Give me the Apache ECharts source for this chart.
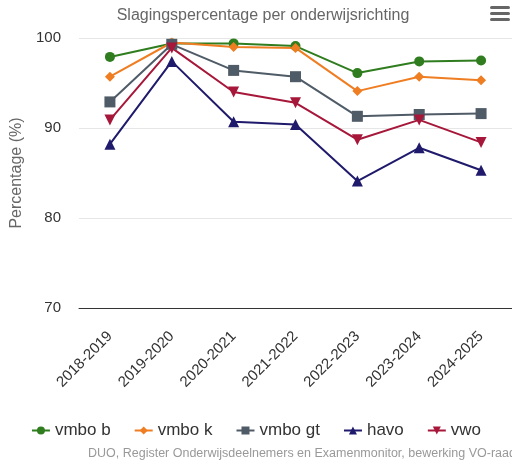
<!DOCTYPE html>
<html>
<head>
<meta charset="utf-8">
<script src="https://cdn.jsdelivr.net/npm/echarts@6/dist/echarts.min.js"></script>
<style>
  html, body { margin: 0; padding: 0; background: #fff; }
  #main { width: 512px; height: 465px; }
</style>
</head>
<body>
<div id="main"></div>
<script>
// schooljaren
const years = ["2018-2019", "2019-2020", "2020-2021", "2021-2022", "2022-2023", "2023-2024", "2024-2025"];

// slagingspercentages per richting
const vmboB = [97.9, 99.4, 99.4, 99.1, 96.1, 97.4, 97.5];
const vmboK = [95.7, 99.5, 99.0, 98.9, 94.1, 95.7, 95.3];
const vmboGt = [92.9, 99.3, 96.4, 95.7, 91.3, 91.5, 91.6];
const havo = [88.2, 97.4, 90.7, 90.4, 84.1, 87.8, 85.3];
const vwo = [90.9, 98.9, 94.0, 92.8, 88.7, 90.9, 88.4];

const yTicks = [70, 80, 90, 100];

const font = "Liberation Sans";

function line(name, data, color, symbol, size) {
  return {
    name: name,
    type: "line",
    data: data,
    symbol: symbol,
    symbolSize: size,
    showAllSymbol: true,
    itemStyle: { color: color },
    lineStyle: { color: color, width: 2 },
    emphasis: { disabled: true }
  };
}

let myChart = echarts.init(document.getElementById("main"));
let option = {
  animation: false,
  textStyle: { fontFamily: font },
  title: {
    text: "Slagingspercentage per onderwijsrichting",
    left: 258,
    textAlign: "center",
    top: 3,
    textStyle: { color: "#666666", fontSize: 16, fontWeight: "normal", fontFamily: font }
  },
  legend: {
    bottom: 21,
    left: "center",
    itemWidth: 18,
    itemHeight: 10,
    itemGap: 23,
    textStyle: { color: "#333333", fontSize: 17, fontFamily: font },
    data: ["vmbo b", "vmbo k", "vmbo gt", "havo", "vwo"]
  },
  grid: {
    left: 79,
    right: -1,
    top: 38,
    bottom: 157,
    containLabel: false
  },
  xAxis: {
    type: "category",
    data: years,
    boundaryGap: true,
    axisLine: { lineStyle: { color: "#333333", width: 1 } },
    axisTick: { show: false },
    axisLabel: {
      rotate: 45,
      color: "#333333",
      fontSize: 15,
      fontFamily: font,
      margin: 26
    }
  },
  yAxis: {
    type: "value",
    min: yTicks[0],
    max: yTicks[yTicks.length - 1],
    interval: 10,
    name: "Percentage (%)",
    nameLocation: "middle",
    nameGap: 54,
    nameTextStyle: { color: "#666666", fontSize: 16, fontFamily: font },
    axisLine: { show: false },
    axisTick: { show: false },
    axisLabel: { color: "#333333", fontSize: 15, fontFamily: font, margin: 18 },
    splitLine: { lineStyle: { color: "#e6e6e6", width: 1 } }
  },
  graphic: [
    // menu icoon
    { type: "rect", shape: { x: 490, y: 6, width: 20, height: 3, r: 1.5 }, style: { fill: "#666666" } },
    { type: "rect", shape: { x: 490, y: 12, width: 20, height: 3, r: 1.5 }, style: { fill: "#666666" } },
    { type: "rect", shape: { x: 490, y: 18, width: 20, height: 3, r: 1.5 }, style: { fill: "#666666" } },
    {
      type: "text",
      left: 88,
      top: 447,
      style: {
        text: "DUO, Register Onderwijsdeelnemers en Examenmonitor, bewerking VO-raad",
        fill: "#999999",
        font: "12.5px " + font
      }
    }
  ],
  series: [
    line("vmbo b", vmboB, "#2f7d1f", "circle", 10),
    line("vmbo k", vmboK, "#ef7d22", "diamond", 10),
    line("vmbo gt", vmboGt, "#4f5b66", "rect", 11),
    line("havo", havo, "#1f1a6b", "triangle", 11),
    line("vwo", vwo, "#a6173a", "path://M0,0 L10,0 L5,10 Z", 11)
  ]
};
myChart.setOption(option);
</script>
</body>
</html>
